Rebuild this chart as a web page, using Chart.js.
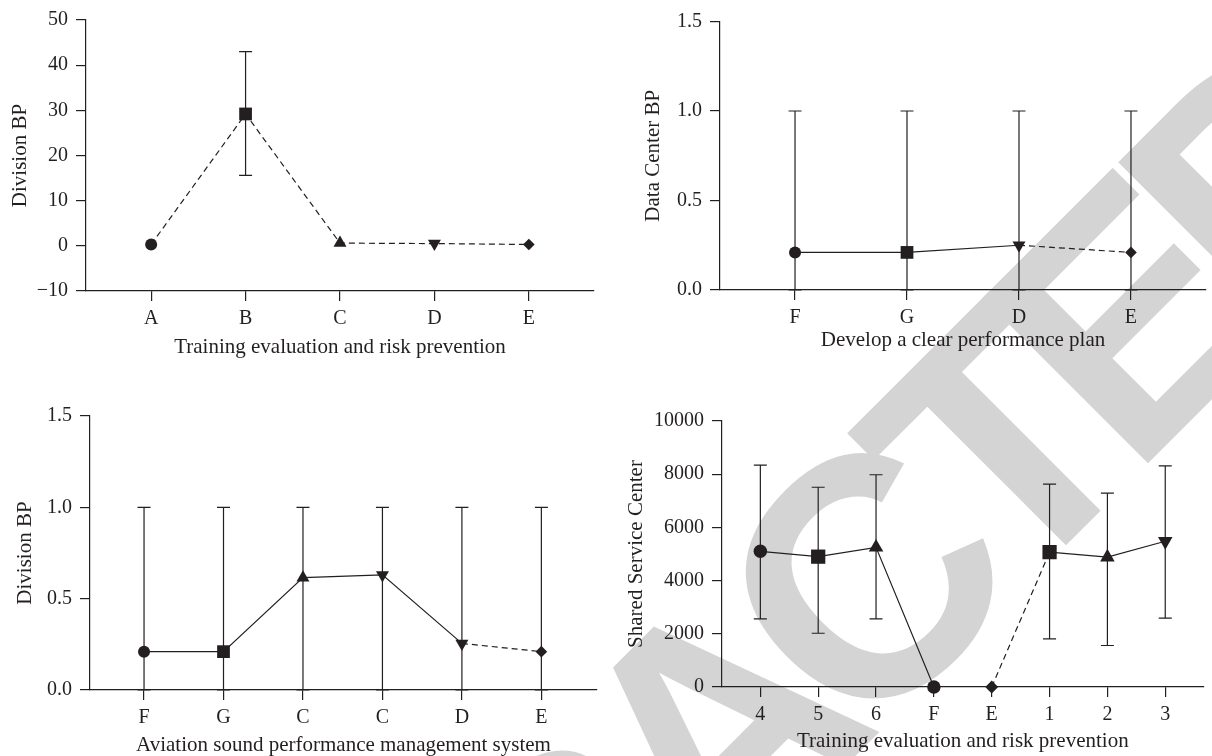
<!DOCTYPE html>
<html>
<head>
<meta charset="utf-8">
<script src="https://cdn.jsdelivr.net/npm/chart.js@4.4.1/dist/chart.umd.min.js"></script>
<style>
  html, body { margin: 0; padding: 0; background: #fff; }
  #page { position: relative; width: 1212px; height: 756px; overflow: hidden; }
  #stamp {
    position: absolute; left: -47px; top: 1251px;
    transform-origin: 0 0; transform: rotate(-45deg);
    font: bold 340px 'Liberation Sans', Arial, sans-serif;
    letter-spacing: -35px;
    line-height: 1; white-space: nowrap; color: #d4d4d4;
  }
  canvas { position: absolute; }
</style>
</head>
<body>
<div id="page">
  <div id="stamp">RETRACTED</div>
  <canvas id="c1" width="606" height="378" style="left:0;top:0"></canvas>
  <canvas id="c2" width="606" height="378" style="left:606px;top:0"></canvas>
  <canvas id="c3" width="606" height="378" style="left:0;top:378px"></canvas>
  <canvas id="c4" width="606" height="378" style="left:606px;top:378px"></canvas>
</div>
<script>
// top left
const p1Labels  = ['A', 'B', 'C', 'D', 'E'];
const p1Values  = [0.3, 29.2, 0.6, 0.5, 0.3];
const p1Low     = [null, 15.6, null, null, null];
const p1High    = [null, 43.0, null, null, null];
const p1Markers = ['circle', 'square', 'up', 'down', 'diamond'];
const p1Lines   = ['dash', 'dash', 'dash', 'dash'];
const p1Ticks   = [-10, 0, 10, 20, 30, 40, 50];

// top right
const p2Labels  = ['F', 'G', 'D', 'E'];
const p2Values  = [0.21, 0.21, 0.25, 0.21];
const p2Low     = [0, 0, 0, 0];
const p2High    = [1, 1, 1, 1];
const p2Markers = ['circle', 'square', 'down', 'diamond'];
const p2Lines   = ['solid', 'solid', 'dash'];
const p2Ticks   = [0, 0.5, 1.0, 1.5];

// bottom left
const p3Labels  = ['F', 'G', 'C', 'C', 'D', 'E'];
const p3Values  = [0.21, 0.21, 0.615, 0.63, 0.255, 0.21];
const p3Low     = [0, 0, 0, 0, 0, 0];
const p3High    = [1, 1, 1, 1, 1, 1];
const p3Markers = ['circle', 'square', 'up', 'down', 'down', 'diamond'];
const p3Lines   = ['solid', 'solid', 'solid', 'solid', 'dash'];
const p3Ticks   = [0, 0.5, 1.0, 1.5];

// bottom right
const p4Labels  = ['4', '5', '6', 'F', 'E', '1', '2', '3'];
const p4Values  = [5100, 4900, 5250, 0, 0, 5070, 4880, 5480];
const p4Low     = [2560, 2020, 2560, null, null, 1810, 1560, 2590];
const p4High    = [8340, 7510, 7980, null, null, 7630, 7290, 8310];
const p4Markers = ['circle', 'square', 'up', 'circle', 'diamond', 'square', 'up', 'down'];
const p4Lines   = ['solid', 'solid', 'solid', 'none', 'dash', 'solid', 'solid'];
const p4Ticks   = [0, 2000, 4000, 6000, 8000, 10000];

const INK = '#231f20';
const SERIF = "'Liberation Serif', 'DejaVu Serif', serif";
Chart.defaults.font.family = SERIF;
Chart.defaults.font.size = 20;
Chart.defaults.color = INK;

const SHAPES = {
  circle:  { style: 'circle',   rot: 0,   r: 6 },
  square:  { style: 'rect',     rot: 0,   r: 9 },
  up:      { style: 'triangle', rot: 0,   r: 7.5 },
  down:    { style: 'triangle', rot: 180, r: 7.5 },
  diamond: { style: 'rectRot',  rot: 0,   r: 5.8 }
};

// vertical whiskers with caps, drawn under the markers
const errorBars = {
  id: 'errorBars',
  beforeDatasetsDraw(chart, args, opts) {
    const { ctx, scales: { x, y } } = chart;
    ctx.save();
    ctx.strokeStyle = INK;
    ctx.lineWidth = 1.2;
    opts.low.forEach((lo, i) => {
      const hi = opts.high[i];
      if (lo == null || hi == null) return;
      const px = x.getPixelForValue(i);
      const y0 = y.getPixelForValue(lo), y1 = y.getPixelForValue(hi);
      ctx.beginPath();
      ctx.moveTo(px, y0); ctx.lineTo(px, y1);
      ctx.moveTo(px - 6.5, y1); ctx.lineTo(px + 6.5, y1);
      ctx.moveTo(px - 6.5, y0); ctx.lineTo(px + 6.5, y0);
      ctx.stroke();
    });
    ctx.restore();
  }
};

function panel(id, p) {
  const scale = p.markerScale || 1;
  const fmt = p.fmt || (v => v);
  new Chart(document.getElementById(id), {
    type: 'line',
    data: {
      datasets: [{
        data: p.values.map((v, i) => ({ x: i, y: v })),
        borderColor: INK,
        borderWidth: 1.2,
        backgroundColor: INK,
        pointBackgroundColor: INK,
        pointBorderWidth: 0,
        pointStyle: p.markers.map(m => SHAPES[m].style),
        pointRotation: p.markers.map(m => SHAPES[m].rot),
        pointRadius: p.markers.map(m => SHAPES[m].r * scale),
        clip: false,
        tension: 0,
        segment: {
          borderDash: c => p.lines[c.p0DataIndex] === 'dash' ? [6, 4] : [],
          borderColor: c => p.lines[c.p0DataIndex] === 'none' ? 'rgba(0,0,0,0)' : INK
        }
      }]
    },
    options: {
      responsive: false,
      animation: false,
      events: [],
      layout: { padding: p.pad },
      plugins: {
        legend: { display: false },
        tooltip: { enabled: false },
        errorBars: { low: p.low, high: p.high }
      },
      scales: {
        x: {
          type: 'linear',
          min: p.xMin, max: p.xMax,
          afterBuildTicks: s => { s.ticks = p.labels.map((_, i) => ({ value: i })); },
          afterFit: s => { s.height = p.xHeight; },
          ticks: { callback: v => p.labels[v], padding: 6, maxRotation: 0, autoSkip: false },
          grid: { drawOnChartArea: false, tickLength: 10, color: INK, lineWidth: 1.2 },
          border: { color: INK, width: 1.2 },
          title: { display: true, text: p.xTitle, font: { size: 21, lineHeight: 1 }, padding: { top: 0, bottom: p.xTitlePad } }
        },
        y: {
          min: p.yTicks[0], max: p.yTicks[p.yTicks.length - 1],
          afterBuildTicks: s => { s.ticks = p.yTicks.map(v => ({ value: v })); },
          afterFit: s => { s.width = p.yWidth; },
          ticks: { callback: fmt, padding: 8 },
          grid: { drawOnChartArea: false, tickLength: 10, color: INK, lineWidth: 1.2 },
          border: { color: INK, width: 1.2 },
          title: { display: true, text: p.yTitle, font: { size: 21, lineHeight: 1 }, padding: { top: p.yTitlePad, bottom: 0 } }
        }
      }
    },
    plugins: [errorBars]
  });
}

panel('c1', {
  labels: p1Labels, values: p1Values, low: p1Low, high: p1High,
  markers: p1Markers, lines: p1Lines, yTicks: p1Ticks,
  fmt: v => v < 0 ? '\u2212' + Math.abs(v) : String(v),
  xMin: -0.69, xMax: 4.69,
  pad: { left: 0, top: 16, right: 12, bottom: 0 },
  yWidth: 86, xHeight: 87, xTitlePad: 20.5, yTitlePad: 9.5,
  xTitle: 'Training evaluation and risk prevention', yTitle: 'Division BP'
});

panel('c2', {
  labels: p2Labels, values: p2Values, low: p2Low, high: p2High,
  markers: p2Markers, lines: p2Lines, yTicks: p2Ticks,
  fmt: v => v.toFixed(1),
  xMin: -0.67, xMax: 3.67,
  pad: { left: 0, top: 21.5, right: 0, bottom: 0 },
  yWidth: 114, xHeight: 88, xTitlePad: 27.5, yTitlePad: 36.5,
  xTitle: 'Develop a clear performance plan', yTitle: 'Data Center BP'
});

panel('c3', {
  labels: p3Labels, values: p3Values, low: p3Low, high: p3High,
  markers: p3Markers, lines: p3Lines, yTicks: p3Ticks,
  fmt: v => v.toFixed(1),
  xMin: -0.68, xMax: 5.7,
  pad: { left: 0, top: 38, right: 9, bottom: 0 },
  yWidth: 90, xHeight: 66, xTitlePad: 0.5, yTitlePad: 14.5,
  xTitle: 'Aviation sound performance management system', yTitle: 'Division BP'
});

panel('c4', {
  labels: p4Labels, values: p4Values, low: p4Low, high: p4High,
  markers: p4Markers, lines: p4Lines, yTicks: p4Ticks,
  xMin: -0.663, xMax: 7.663, markerScale: 1.12,
  pad: { left: 0, top: 43, right: 0, bottom: 0 },
  yWidth: 116, xHeight: 69, xTitlePad: 3.8, yTitlePad: 19.5,
  xTitle: 'Training evaluation and risk prevention', yTitle: 'Shared Service Center'
});
</script>
</body>
</html>
